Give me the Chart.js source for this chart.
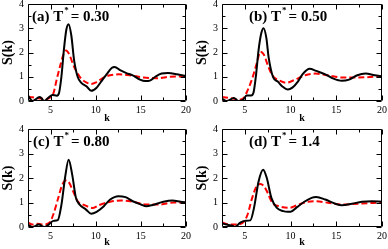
<!DOCTYPE html>
<html>
<head>
<meta charset="utf-8">
<script src="https://cdn.jsdelivr.net/npm/chart.js@4"></script>
<style>
  body { margin: 0; background: #fff; }
  #wrap { position: relative; width: 388px; height: 249px; overflow: hidden; }
  canvas { position: absolute; }
</style>
</head>
<body>
<div id="wrap">
  <canvas id="chartA" width="194" height="125" style="left:0;top:0"></canvas>
  <canvas id="chartB" width="194" height="125" style="left:194px;top:0"></canvas>
  <canvas id="chartC" width="194" height="125" style="left:0;top:124px"></canvas>
  <canvas id="chartD" width="194" height="125" style="left:194px;top:124px"></canvas>
</div>
<script>
// tick labels
const xTicks = [5, 10, 15, 20];
const xMinorTicks = [7.5, 12.5, 17.5];
const yTicks = [0, 1, 2, 3, 4];
const yMinorTicks = [0.5, 1.5, 2.5, 3.5];

const panelLetters = ['(a)', '(b)', '(c)', '(d)'];
const temperatures = ['0.30', '0.50', '0.80', '1.4'];

// (a) T* = 0.30
const kBlackA = [2.5, 3.0, 3.8, 4.3, 4.8, 5.2, 5.7, 5.95, 6.2, 6.5, 6.75, 7.0, 7.3, 7.6, 8.0, 8.4, 9.0, 9.5, 10.1, 10.6, 11.2, 11.8, 12.1, 12.7, 13.4, 14.1, 14.9, 15.5, 16.0, 16.6, 17.3, 18.0, 19.0, 20.0];
const sBlackA = [0.23, 0.0, 0.17, 0.0, 0.15, 0.25, 0.22, 0.35, 1.0, 2.2, 2.95, 3.17, 2.7, 1.7, 1.0, 0.75, 0.6, 0.42, 0.55, 0.8, 1.1, 1.37, 1.4, 1.27, 1.15, 1.06, 0.88, 0.82, 0.84, 1.0, 1.13, 1.15, 1.1, 1.02];
const kRedA = [2.5, 3.0, 3.5, 4.0, 4.5, 5.0, 5.3, 5.7, 6.1, 6.45, 6.7, 7.1, 7.5, 7.9, 8.4, 9.0, 9.5, 10.1, 10.9, 11.6, 12.5, 13.8, 15.3, 16.8, 18.2, 20.0];
const sRedA = [0.17, 0.15, 0.12, 0.1, 0.08, 0.15, 0.3, 0.92, 1.5, 1.95, 2.08, 1.9, 1.5, 1.2, 0.92, 0.76, 0.7, 0.78, 0.97, 1.06, 1.1, 1.06, 0.97, 0.94, 1.0, 1.02];

// (b) T* = 0.50
const kBlackB = [2.5, 3.0, 3.8, 4.3, 4.8, 5.2, 5.7, 5.95, 6.2, 6.5, 6.8, 7.05, 7.35, 7.6, 8.1, 8.6, 9.1, 9.7, 10.2, 10.8, 11.3, 12.1, 12.8, 13.8, 14.7, 15.6, 16.4, 17.3, 18.2, 19.2, 20.0];
const sBlackB = [0.1, 0.0, 0.12, 0.0, 0.05, 0.23, 0.23, 0.35, 1.0, 2.1, 2.8, 3.0, 2.6, 1.8, 0.97, 0.8, 0.6, 0.47, 0.55, 0.8, 1.1, 1.33, 1.24, 1.1, 0.92, 0.83, 0.88, 1.06, 1.13, 1.06, 1.02];
const kRedB = [2.5, 3.7, 4.4, 4.9, 5.3, 5.8, 6.3, 6.7, 7.1, 7.5, 8.0, 8.7, 9.5, 10.4, 11.6, 12.7, 14.1, 15.6, 17.4, 20.0];
const sRedB = [0.17, 0.1, 0.05, 0.14, 0.44, 0.92, 1.55, 2.03, 1.9, 1.48, 1.06, 0.86, 0.75, 0.86, 1.06, 1.13, 1.06, 0.97, 0.97, 1.02];

// (c) T* = 0.80
const kBlackC = [2.5, 3.0, 3.7, 4.3, 4.8, 5.3, 5.8, 6.2, 6.6, 7.0, 7.4, 7.8, 8.2, 8.9, 9.5, 10.1, 10.9, 11.6, 12.5, 13.3, 14.1, 15.0, 15.6, 16.3, 17.5, 18.5, 19.4, 20.0];
const sBlackC = [0.1, 0.0, 0.1, 0.0, 0.1, 0.25, 0.28, 0.9, 2.0, 2.75, 2.13, 1.2, 0.92, 0.72, 0.54, 0.62, 0.85, 1.12, 1.26, 1.22, 1.05, 0.92, 0.85, 0.9, 1.03, 1.08, 1.03, 1.0];
const kRedC = [2.5, 3.0, 3.6, 4.2, 4.9, 5.3, 5.8, 6.3, 6.7, 7.0, 7.5, 8.0, 8.7, 9.7, 10.4, 11.6, 12.8, 14.1, 15.6, 17.1, 18.6, 20.0];
const sRedC = [0.18, 0.1, 0.13, 0.1, 0.18, 0.51, 1.12, 1.73, 1.9, 1.84, 1.46, 1.05, 0.9, 0.78, 0.9, 1.03, 1.08, 1.03, 0.92, 0.92, 1.0, 1.0];

// (d) T* = 1.4
const kBlackD = [2.5, 3.0, 3.7, 3.9, 4.5, 5.0, 5.6, 6.0, 6.5, 7.0, 7.4, 7.9, 8.5, 9.2, 9.7, 10.0, 10.7, 11.5, 12.3, 12.8, 13.8, 14.9, 15.6, 16.7, 17.8, 18.9, 20.0];
const sBlackD = [0.14, 0.1, 0.04, 0.0, 0.18, 0.25, 0.27, 0.78, 1.86, 2.34, 2.0, 1.19, 0.78, 0.65, 0.62, 0.62, 0.81, 1.03, 1.19, 1.22, 1.12, 0.95, 0.89, 0.95, 1.03, 1.05, 1.03];
const kRedD = [2.5, 3.4, 4.2, 4.9, 5.3, 5.8, 6.4, 6.7, 7.1, 7.5, 8.0, 8.7, 9.8, 10.7, 11.9, 12.8, 14.1, 15.6, 17.4, 20.0];
const sRedD = [0.18, 0.1, 0.1, 0.22, 0.51, 1.19, 1.73, 1.76, 1.66, 1.39, 0.99, 0.85, 0.78, 0.89, 1.03, 1.05, 0.99, 0.92, 0.95, 1.0];

const SERIF = '"Liberation Serif", "Times New Roman", serif';

function toPoints(ks, ss) {
    return ks.map((k, i) => ({ x: k, y: ss[i] }));
}

// ticks pointing inward on all four sides, the box, the k title and the panel label
const framePlugin = {
    id: 'frame',
    afterDraw(chart, args, opts) {
        const { ctx, chartArea: a, scales: { x, y } } = chart;
        ctx.save();
        ctx.strokeStyle = '#000';
        ctx.lineWidth = 1;
        ctx.beginPath();
        const L = Math.round(a.left) + 0.5, R = Math.round(a.right) - 0.5;
        const T = Math.round(a.top) + 0.5, B = Math.round(a.bottom) - 0.5;
        ctx.rect(L, T, R - L, B - T);

        function xTick(v, len) {
            const px = Math.round(x.getPixelForValue(v)) + 0.5;
            ctx.moveTo(px, B); ctx.lineTo(px, B - len);
            ctx.moveTo(px, T); ctx.lineTo(px, T + len);
        }
        function yTick(v, len) {
            const py = Math.round(y.getPixelForValue(v)) + 0.5;
            ctx.moveTo(L, py); ctx.lineTo(L + len, py);
            ctx.moveTo(R, py); ctx.lineTo(R - len, py);
        }
        xTicks.forEach(v => xTick(v, 5));
        xMinorTicks.forEach(v => xTick(v, 3));
        yTicks.forEach(v => yTick(v, 5));
        yMinorTicks.forEach(v => yTick(v, 3));
        ctx.stroke();

        ctx.fillStyle = '#000';
        ctx.textAlign = 'center';
        ctx.textBaseline = 'middle';
        ctx.font = 'bold 10px ' + SERIF;
        ctx.fillText('k', (a.left + a.right) / 2, a.bottom + opts.kOffset);

        // panel label, e.g. (a) T* = 0.30
        ctx.textBaseline = 'alphabetic';
        ctx.textAlign = 'left';
        let px = a.left + opts.labelOffset;
        const base = a.top + 17;
        ctx.font = 'bold 15px ' + SERIF;
        const first = opts.letter + ' T';
        ctx.fillText(first, px, base);
        px += ctx.measureText(first).width + 1;
        ctx.font = 'bold 9px ' + SERIF;
        ctx.fillText('*', px, base - 8);
        px += ctx.measureText('*').width + 2;
        ctx.font = 'bold 15px ' + SERIF;
        ctx.fillText('= ' + opts.temp, px, base);
        ctx.restore();
    }
};

function createChart(canvasId, index, kBlack, sBlack, kRed, sRed, layout) {
    const ctx = document.getElementById(canvasId).getContext('2d');
    return new Chart(ctx, {
        type: 'line',
        data: {
            datasets: [
                {
                    data: toPoints(kBlack, sBlack),
                    borderColor: '#000000',
                    borderWidth: 2,
                    pointRadius: 0,
                    cubicInterpolationMode: 'monotone'
                },
                {
                    data: toPoints(kRed, sRed),
                    borderColor: '#ff0000',
                    borderWidth: 2,
                    borderDash: [6, 3],
                    pointRadius: 0,
                    cubicInterpolationMode: 'monotone'
                }
            ]
        },
        options: {
            responsive: false,
            animation: false,
            devicePixelRatio: 1,
            layout: {
                padding: { top: layout.top, right: layout.right, left: 0, bottom: 0 }
            },
            plugins: {
                legend: { display: false },
                tooltip: { enabled: false },
                frame: {
                    letter: panelLetters[index],
                    temp: temperatures[index],
                    labelOffset: layout.labelOffset,
                    kOffset: layout.kOffset
                }
            },
            scales: {
                x: {
                    type: 'linear',
                    position: 'bottom',
                    min: 2.5,
                    max: 20,
                    afterBuildTicks: scale => {
                        scale.ticks = xTicks.map(v => ({ value: v }));
                    },
                    afterFit: scale => {
                        scale.height = layout.xHeight;
                        scale.paddingLeft = 0;
                        scale.paddingRight = 0;
                    },
                    grid: { display: false, drawTicks: false },
                    border: { display: false },
                    ticks: {
                        color: '#000',
                        font: { family: SERIF, size: 10 },
                        padding: 3,
                        maxRotation: 0,
                        autoSkip: false
                    }
                },
                y: {
                    type: 'linear',
                    position: 'left',
                    min: 0,
                    max: 4,
                    afterBuildTicks: scale => {
                        scale.ticks = yTicks.map(v => ({ value: v }));
                    },
                    afterFit: scale => {
                        scale.width = 28;
                        scale.paddingTop = 0;
                        scale.paddingBottom = 0;
                    },
                    grid: { display: false, drawTicks: false },
                    border: { display: false },
                    ticks: {
                        color: '#000',
                        font: { family: SERIF, size: 10 },
                        padding: 4
                    },
                    title: {
                        display: true,
                        text: 'S(k)',
                        color: '#000',
                        font: { family: SERIF, size: 14, weight: 'bold' },
                        padding: 0
                    }
                }
            }
        },
        plugins: [framePlugin]
    });
}

const topRow = { top: 4, xHeight: 24, kOffset: 17 };
const bottomRow = { top: 5, xHeight: 22, kOffset: 15 };

createChart('chartA', 0, kBlackA, sBlackA, kRedA, sRedA, Object.assign({ right: 8, labelOffset: 4 }, topRow));
createChart('chartB', 1, kBlackB, sBlackB, kRedB, sRedB, Object.assign({ right: 6, labelOffset: 27 }, topRow));
createChart('chartC', 2, kBlackC, sBlackC, kRedC, sRedC, Object.assign({ right: 8, labelOffset: 5 }, bottomRow));
createChart('chartD', 3, kBlackD, sBlackD, kRedD, sRedD, Object.assign({ right: 6, labelOffset: 27 }, bottomRow));
</script>
</body>
</html>
